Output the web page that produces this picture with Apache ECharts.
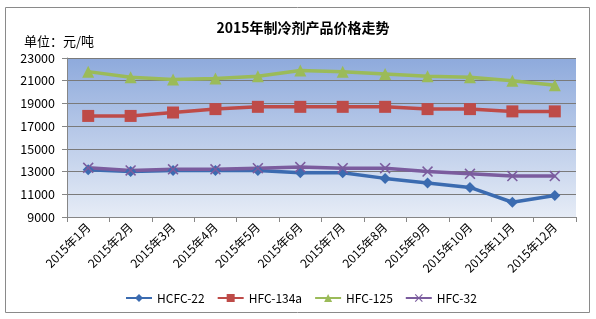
<!DOCTYPE html>
<html><head><meta charset="utf-8">
<script src="https://cdn.jsdelivr.net/npm/echarts@6/dist/echarts.min.js"></script>
<style>html,body{margin:0;padding:0;background:#fff}#c{width:596px;height:319px}</style>
</head><body><div id="c"></div>
<script>
const categories = ["2015年1月","2015年2月","2015年3月","2015年4月","2015年5月","2015年6月","2015年7月","2015年8月","2015年9月","2015年10月","2015年11月","2015年12月"];
const hcfc22  = [13150,13000,13100,13100,13100,12900,12900,12400,12000,11600,10300,10900];
const hfc134a = [17900,17900,18200,18500,18700,18700,18700,18700,18500,18500,18300,18300];
const hfc125  = [21800,21300,21100,21200,21400,21900,21800,21600,21400,21300,21000,20600];
const hfc32   = [13330,13100,13200,13200,13300,13400,13300,13300,13000,12800,12600,12600];
const yTicks = {min: 9000, max: 23000, interval: 2000};
const seriesNames = ["HCFC-22","HFC-134a","HFC-125","HFC-32"];

const font = '"Noto Sans CJK SC","Liberation Sans",sans-serif';
const crossPath = 'path://M0,1L1,0L5,4L9,0L10,1L6,5L10,9L9,10L5,6L1,10L0,9L4,5Z';
const chart = echarts.init(document.getElementById('c'));
function mk(name, data, color, symbol, size) {
  return {
    name, type: 'line', data, symbol, symbolSize: size,
    lineStyle: {color, width: 3.5},
    itemStyle: {color},
    emphasis: {disabled: true}
  };
}
chart.setOption({
  animation: false,
  textStyle: {fontFamily: font},
  title: [{
    text: '2015年制冷剂产品价格走势', left: 298, top: 16, textAlign: 'center',
    textStyle: {fontSize: 14, fontWeight: 'bold', color: '#000', fontFamily: font}
  }, {
    text: '单位：元/吨', left: 19, top: 30,
    textStyle: {fontSize: 13, fontWeight: 'normal', color: '#000', fontFamily: font}
  }],
  graphic: [{
    type: 'rect', shape: {x: 5.5, y: 7.5, width: 584, height: 305},
    style: {fill: 'none', stroke: '#8a8a8a', lineWidth: 1}, z: -1
  }],
  legend: {
    data: seriesNames, left: 120, top: 287, itemWidth: 26, itemHeight: 10, itemGap: 12,
    textStyle: {fontSize: 12, color: '#000', fontFamily: font}
  },
  grid: {
    left: 67, right: 20, top: 58, bottom: 102, show: true, borderWidth: 0,
    backgroundColor: new echarts.graphic.LinearGradient(0, 0, 0, 1, [
      {offset: 0, color: '#8eaadc'}, {offset: 1, color: '#e6ecf6'}
    ])
  },
  xAxis: {
    type: 'category', data: categories, boundaryGap: true,
    axisLine: {lineStyle: {color: '#868686'}},
    axisTick: {show: true, alignWithLabel: false, length: 5, lineStyle: {color: '#868686'}},
    axisLabel: {rotate: 45, fontSize: 12, color: '#000', margin: 8, interval: 0, fontFamily: font}
  },
  yAxis: {
    type: 'value', min: yTicks.min, max: yTicks.max, interval: yTicks.interval,
    axisLine: {show: true, lineStyle: {color: '#868686'}},
    axisTick: {show: true, length: 5, lineStyle: {color: '#868686'}},
    axisLabel: {fontSize: 12.5, color: '#000', margin: 12, fontFamily: font, formatter: v => String(v)},
    splitLine: {show: true, lineStyle: {color: '#7a7a7a', width: 1}}
  },
  series: [
    mk(seriesNames[0], hcfc22, '#3b6bb0', 'diamond', 11),
    mk(seriesNames[1], hfc134a, '#be4b48', 'rect', 12),
    mk(seriesNames[2], hfc125, '#9bbb59', 'triangle', 12),
    mk(seriesNames[3], hfc32, '#7b5c9e', crossPath, 11)
  ]
});
</script></body></html>
